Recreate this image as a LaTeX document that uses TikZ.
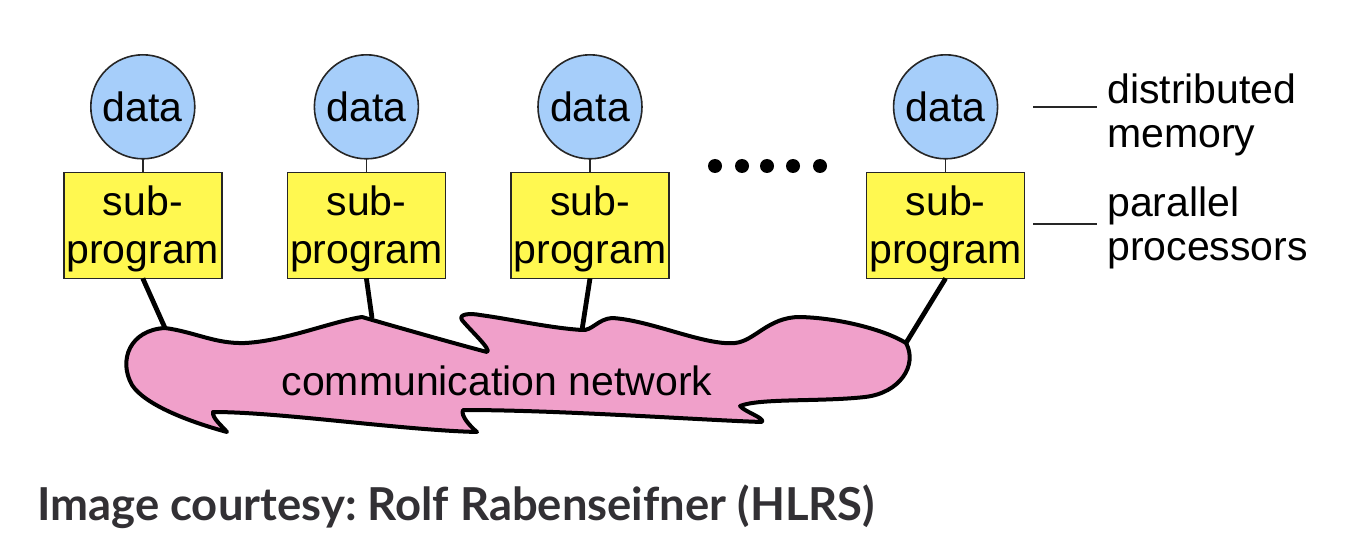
\documentclass[tikz,border=0pt]{standalone}
\usepackage{fontspec}
\setmainfont{Liberation Sans}
\newfontfamily\capfont{Lato}
\usepackage{tikz}
\usetikzlibrary{matrix}
\frenchspacing

\definecolor{datablue}{RGB}{166,206,250}
\definecolor{procyellow}{RGB}{255,248,80}
\definecolor{netpink}{RGB}{240,160,202}
\definecolor{capgray}{RGB}{50,48,52}

\newcommand{\subprogtext}{\begin{tabular}{@{}c@{}}\rule{0pt}{21.3pt}sub-\\program\end{tabular}}

\tikzset{
  bigtext/.style={font=\fontsize{20.5}{24}\selectfont},
  datanode/.style={circle,draw=black!85,line width=0.8pt,fill=datablue,minimum size=52pt,inner sep=0pt,bigtext},
  procnode/.style={rectangle,draw=black!85,line width=0.8pt,fill=procyellow,minimum width=79pt,minimum height=53pt,inner sep=0pt,bigtext},
  cloudline/.style={draw=black,line width=2pt,fill=netpink,line join=round},
  wire/.style={line width=2.4pt,black},
  link/.style={line width=0.8pt,black!85},
  tick/.style={line width=0.8pt,black!85},
  sidelabel/.style={anchor=west,inner sep=0pt,align=left,font=\fontsize{20.5}{22}\selectfont},
  caption/.style={anchor=base west,inner sep=0pt,text=capgray,font=\capfont\bfseries\fontsize{22.7}{27}\selectfont}
}

\begin{document}
\begin{tikzpicture}[x=0.5pt,y=-0.5pt]
    \fill[white] (0,0) rectangle (1346,540);
    \useasboundingbox (0,0) rectangle (1346,540);

    \matrix (m) [matrix of nodes,row sep=6pt,column sep=32pt,anchor=north west,inner sep=0pt,outer sep=0pt,
      nodes={anchor=center},row 1/.style={nodes=datanode},row 2/.style={nodes=procnode}] at (63,54)
    {
      data & data & data &[66pt] data \\
      \subprogtext & \subprogtext & \subprogtext &[66pt] \subprogtext \\
    };

    \foreach \x in {715,742,767,793,820}
      \fill (\x,166) circle (3.5pt);

    \coordinate (n1) at (165,328);
    \coordinate (n2) at (372,318);
    \coordinate (n3) at (582,330);
    \coordinate (n4) at (906,343);

    \path[link]
    (m-1-1) edge (m-2-1)
    (m-1-2) edge (m-2-2)
    (m-1-3) edge (m-2-3)
    (m-1-4) edge (m-2-4);
    \path[wire]
    (m-2-1.south) edge (n1)
    (m-2-2.south) edge (n2)
    (m-2-3.south) edge (n3)
    (m-2-4.south) edge (n4);

    % network cloud
    \path[cloudline] (n1)
      .. controls (195,332) and (215,344) .. (245,343)
      .. controls (285,341) and (330,322) .. (362,317)
      .. controls (400,328) and (460,345) .. (487,352)
      .. controls (492,350) and (470,330) .. (462,320)
      .. controls (458,314) and (470,313) .. (480,315)
      .. controls (510,319) and (550,328) .. (n3)
      .. controls (592,331) and (598,319) .. (612,318)
      .. controls (650,320) and (705,346) .. (735,343)
      .. controls (755,341) and (768,317) .. (800,317)
      .. controls (840,318) and (885,330) .. (n4)
      .. controls (918,365) and (900,393) .. (865,397)
      .. controls (820,402) and (760,398) .. (740,406)
      .. controls (745,412) and (765,418) .. (762,422)
      .. controls (700,420) and (560,410) .. (463,410)
      .. controls (460,416) and (472,428) .. (477,432)
      .. controls (400,430) and (280,412) .. (213,412)
      .. controls (212,418) and (222,426) .. (227,432)
      .. controls (190,422) and (145,405) .. (132,385)
      .. controls (118,360) and (130,330) .. (n1) -- cycle;
    \node[bigtext,anchor=base,inner sep=0pt] (net) at (497,395) {communication network};

    \node[sidelabel] (mem) at (1107,115) {distributed\\memory};
    \node[sidelabel] (proc) at (1107,228) {parallel\\processors};
    \coordinate (t1) at (1033,107);
    \coordinate (t2) at (1033,224);
    \draw[tick] (t1) -- ([xshift=-5pt]t1 -| mem.west);
    \draw[tick] (t2) -- ([xshift=-5pt]t2 -| proc.west);

    \node[caption] (credit) at (37,520) {Image courtesy: Rolf Rabenseifner (HLRS)};
\end{tikzpicture}
\end{document}
